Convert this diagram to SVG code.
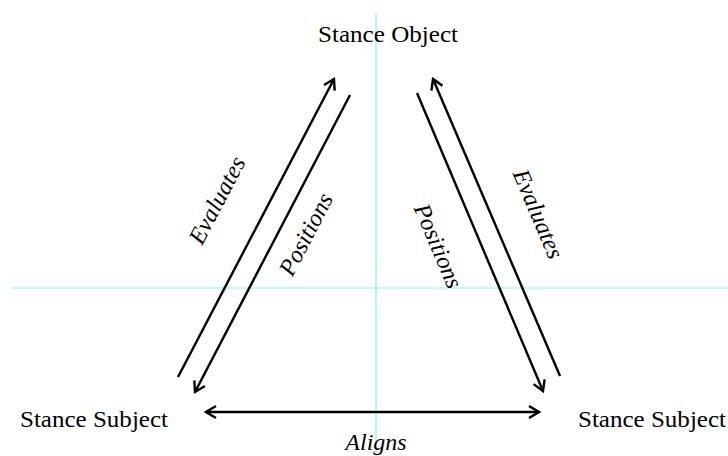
<svg xmlns="http://www.w3.org/2000/svg" width="728" height="456" viewBox="0 0 728 456">
<style>
.guide{stroke:#80f4f4;stroke-width:1.2;fill:none}
.conn{stroke:#000;stroke-width:2.4;fill:none}
.node{font-family:'Times New Roman','Liberation Serif',Tinos,serif;font-size:24px;fill:#000}
.lbl{font-family:'Times New Roman','Liberation Serif',Tinos,serif;font-size:24px;font-style:italic;fill:#000;text-anchor:middle}
</style>
<defs>
<marker id="arr" markerUnits="userSpaceOnUse" viewBox="-12 -8 14 16" refX="0" refY="0" markerWidth="14" markerHeight="16" orient="auto-start-reverse">
<path d="M-10,-6 L0,0 L-10,6" fill="none" stroke="#000" stroke-width="2.4" stroke-linejoin="miter"/>
</marker>
</defs>
<rect width="728" height="456" fill="#fff"/>
<g id="guides">
<line class="guide" x1="376" y1="13" x2="376" y2="456"/>
<line class="guide" x1="12" y1="288" x2="728" y2="288"/>
</g>
<g id="connectors">
<line class="conn" x1="178" y1="377" x2="334" y2="79" marker-end="url(#arr)"/>
<line class="conn" x1="350" y1="95" x2="195" y2="392" marker-end="url(#arr)"/>
<line class="conn" x1="417" y1="93" x2="543" y2="391" marker-end="url(#arr)"/>
<line class="conn" x1="560" y1="376" x2="433" y2="79" marker-end="url(#arr)"/>
<line class="conn" x1="206" y1="412" x2="539" y2="412" marker-start="url(#arr)" marker-end="url(#arr)"/>
<text class="lbl" transform="translate(224,204) rotate(-62.3)">Evaluates</text>
<text class="lbl" transform="translate(313,238) rotate(-62.5)">Positions</text>
<text class="lbl" transform="translate(431,249) rotate(67)">Positions</text>
<text class="lbl" transform="translate(531,217) rotate(67)">Evaluates</text>
<text class="lbl" x="376" y="450">Aligns</text>
</g>
<g id="stance-object">
<text class="node" x="318" y="42" textLength="140" lengthAdjust="spacingAndGlyphs">Stance Object</text>
</g>
<g id="stance-subject-left">
<text class="node" x="20" y="427" textLength="148" lengthAdjust="spacingAndGlyphs">Stance Subject</text>
</g>
<g id="stance-subject-right">
<text class="node" x="578" y="427" textLength="148" lengthAdjust="spacingAndGlyphs">Stance Subject</text>
</g>
</svg>
